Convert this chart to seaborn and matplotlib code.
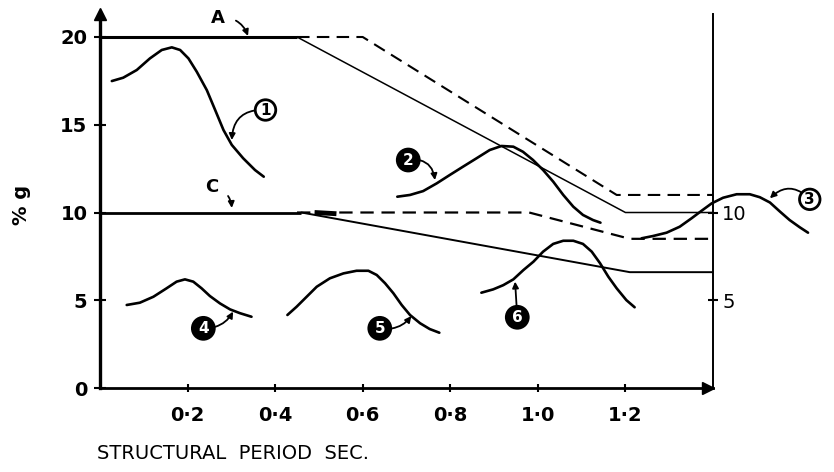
import numpy as np
import pandas as pd
import matplotlib
matplotlib.use("Agg")
import matplotlib.pyplot as plt
import seaborn as sns

# ---------------- data ----------------
# design spectra (period in s, % g)
A_x = [0.0, 0.45, 1.20, 1.40]
A_y = [20.0, 20.0, 10.0, 10.0]
A_dash_x = [0.45, 0.60, 1.18, 1.40]
A_dash_y = [20.0, 20.0, 11.0, 11.0]
C_x = [0.0, 0.46, 1.21, 1.40]
C_y = [10.0, 10.0, 6.6, 6.6]
C_dash_x = [0.45, 0.98, 1.21, 1.40]
C_dash_y = [10.0, 10.0, 8.5, 8.5]

# sketched response curves
c1_x = [0.027, 0.053, 0.084, 0.114, 0.141, 0.164, 0.183, 0.202, 0.221, 0.244,
        0.263, 0.282, 0.301, 0.327, 0.354, 0.374]
c1_y = [17.49, 17.68, 18.12, 18.78, 19.26, 19.41, 19.26, 18.78, 18.02, 16.97,
        15.84, 14.70, 13.85, 13.09, 12.42, 12.04]
c2_x = [0.679, 0.708, 0.738, 0.769, 0.799, 0.829, 0.860, 0.890, 0.917, 0.944,
        0.966, 0.989, 1.012, 1.035, 1.058, 1.081, 1.103, 1.126, 1.143]
c2_y = [10.90, 11.00, 11.22, 11.66, 12.14, 12.61, 13.09, 13.56, 13.79, 13.75,
        13.46, 12.99, 12.42, 11.76, 11.00, 10.33, 9.86, 9.57, 9.42]
c3_x = [1.237, 1.263, 1.294, 1.324, 1.351, 1.374, 1.397, 1.423, 1.454, 1.484,
        1.507, 1.530, 1.553, 1.575, 1.598, 1.617]
c3_y = [8.53, 8.66, 8.85, 9.19, 9.67, 10.10, 10.52, 10.84, 11.04, 11.04,
        10.87, 10.57, 10.05, 9.57, 9.16, 8.85]
c4_x = [0.061, 0.091, 0.122, 0.152, 0.175, 0.194, 0.213, 0.232, 0.251, 0.274,
        0.297, 0.320, 0.346]
c4_y = [4.73, 4.86, 5.20, 5.68, 6.06, 6.19, 6.06, 5.68, 5.24, 4.82, 4.48, 4.26, 4.06]
c5_x = [0.428, 0.449, 0.472, 0.495, 0.525, 0.556, 0.586, 0.613, 0.632, 0.651,
        0.670, 0.689, 0.708, 0.731, 0.753, 0.775]
c5_y = [4.16, 4.63, 5.20, 5.77, 6.25, 6.53, 6.68, 6.68, 6.44, 5.97,
        5.40, 4.73, 4.16, 3.69, 3.36, 3.15]
c6_x = [0.871, 0.898, 0.921, 0.944, 0.967, 0.990, 1.012, 1.035, 1.058, 1.081,
        1.103, 1.123, 1.142, 1.161, 1.180, 1.202, 1.221]
c6_y = [5.43, 5.62, 5.86, 6.19, 6.72, 7.20, 7.77, 8.21, 8.39, 8.39,
        8.21, 7.77, 7.11, 6.34, 5.68, 5.01, 4.60]

x_ticks = [0.2, 0.4, 0.6, 0.8, 1.0, 1.2]
x_tick_labels = ["0·2", "0·4", "0·6", "0·8", "1·0", "1·2"]
y_ticks = [0, 5, 10, 15, 20]
y_tick_labels = ["0", "5", "10", "15", "20"]
right_ticks = [5, 10]
right_tick_labels = ["5", "10"]

# label annotations: text, label position, arrow target, style
labels = [
    ("1", (0.378, 15.84), (0.301, 14.13), "open", 0.5),
    ("2", (0.704, 12.99), (0.765, 11.85), "filled", -0.5),
    ("3", (1.621, 10.75), (1.530, 10.81), "open", 0.5),
    ("4", (0.236, 3.40), (0.304, 4.35), "filled", 0.3),
    ("5", (0.639, 3.40), (0.711, 4.10), "filled", 0.3),
    ("6", (0.953, 4.03), (0.948, 6.06), "filled", 0.0),
]
letters = [
    ("A", (0.269, 21.08), (0.338, 20.06)),
    ("C", (0.256, 11.45), (0.301, 10.26)),
]

# ---------------- drawing ----------------
sns.set_theme(style="white")
plt.rcParams["font.family"] = ["DejaVu Sans"]

fig = plt.figure(figsize=(8.34, 4.72), dpi=100)
ax = fig.add_axes([100 / 834, 84 / 472, 613 / 834, 374 / 472])
ax.set_xlim(0, 1.4)
ax.set_ylim(0, 374 / 17.55)
ax.set_facecolor("white")

k = "black"
# spectra lines
ax.plot(A_x[:2], A_y[:2], color=k, lw=2.2, solid_capstyle="butt")
ax.plot(A_x[1:], A_y[1:], color=k, lw=1.1)
ax.plot(A_dash_x, A_dash_y, color=k, lw=1.5, dashes=(6, 3.5))
ax.plot(C_x[:2], C_y[:2], color=k, lw=2.0, solid_capstyle="butt")
ax.plot(C_x[1:], C_y[1:], color=k, lw=1.4)
ax.plot(C_dash_x, C_dash_y, color=k, lw=1.6, dashes=(6, 3.5))
ax.plot([0.49, 0.54], [10.0, 9.93], color=k, lw=3.5, solid_capstyle="butt")

# response curves via seaborn
for cx, cy in [(c1_x, c1_y), (c2_x, c2_y), (c3_x, c3_y),
               (c4_x, c4_y), (c5_x, c5_y), (c6_x, c6_y)]:
    sns.lineplot(x=cx, y=cy, ax=ax, color=k, lw=1.9, sort=False,
                 estimator=None, clip_on=False)

# numbered labels
for txt, pos, tgt, style, rad in labels:
    if style == "open":
        bbox = dict(boxstyle="circle,pad=0.18", fc="white", ec=k, lw=2.0)
        col = k
    else:
        bbox = dict(boxstyle="circle,pad=0.25", fc=k, ec=k, lw=1.5)
        col = "white"
    ax.annotate(txt, xy=tgt, xytext=pos, ha="center", va="center",
                fontsize=11, fontweight="bold", color=col, bbox=bbox,
                annotation_clip=False,
                arrowprops=dict(arrowstyle="-|>", color=k, lw=1.3,
                                mutation_scale=9,
                                connectionstyle=f"arc3,rad={rad}",
                                shrinkA=0, shrinkB=0))

for txt, pos, tgt in letters:
    ax.annotate(txt, xy=tgt, xytext=pos, ha="center", va="center",
                fontsize=13, fontweight="bold", color=k,
                annotation_clip=False,
                arrowprops=dict(arrowstyle="-|>", color=k, lw=1.3,
                                mutation_scale=9,
                                connectionstyle="arc3,rad=-0.4",
                                shrinkA=6, shrinkB=0))

# axes styling
ax.spines["top"].set_visible(False)
ax.spines["left"].set_linewidth(2.4)
ax.spines["bottom"].set_linewidth(2.0)
ax.spines["right"].set_linewidth(1.4)
for s in ["left", "bottom", "right"]:
    ax.spines[s].set_color(k)

ax.set_xticks(x_ticks)
ax.set_xticklabels(x_tick_labels, fontsize=14, fontweight="bold")
ax.set_yticks(y_ticks)
ax.set_yticklabels(y_tick_labels, fontsize=14, fontweight="bold")
ax.tick_params(axis="x", direction="inout", length=6, width=1.5, pad=10,
               colors=k, bottom=True)
ax.tick_params(axis="y", direction="inout", length=8, width=1.5, pad=5,
               colors=k, left=True)

ax2 = ax.twinx()
ax2.set_ylim(ax.get_ylim())
ax2.set_yticks(right_ticks)
ax2.set_yticklabels(right_tick_labels, fontsize=14)
ax2.tick_params(axis="y", direction="inout", length=7, width=1.5, pad=3,
                colors=k, right=True)
for s in ["top", "left", "bottom", "right"]:
    ax2.spines[s].set_visible(False)

# axis arrows
ax.plot([0], [1.0], marker="^", ms=9, color=k, transform=ax.transAxes,
        clip_on=False)
ax.plot([0.992], [0], marker=">", ms=9, color=k, transform=ax.transAxes,
        clip_on=False)

ax.set_ylabel("% g", fontsize=14, fontweight="bold", color=k)
ax.yaxis.set_label_coords(-0.112, 0.49)
ax.set_xlabel("STRUCTURAL  PERIOD  SEC.", fontsize=14, color=k, loc="left")
ax.xaxis.set_label_coords(-0.005, -0.15)

fig.savefig("out.png", dpi=100, facecolor="white")
